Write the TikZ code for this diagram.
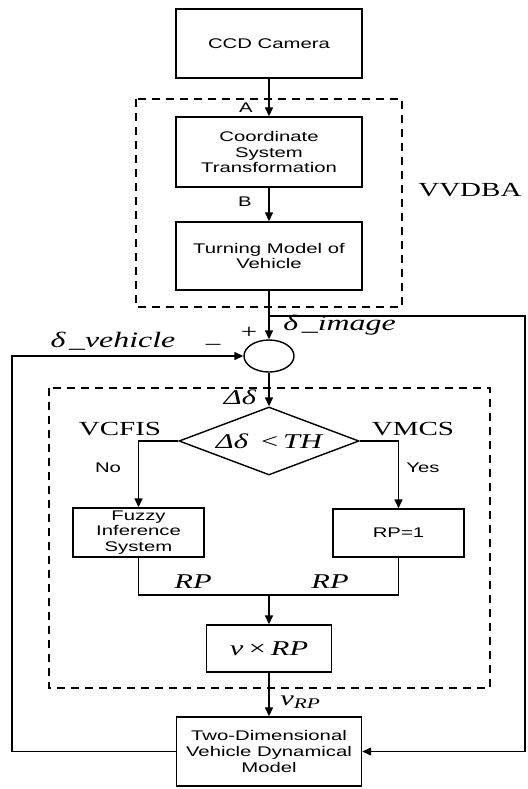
\documentclass[tikz,border=0pt]{standalone}
\usepackage{fontspec}
\setmainfont[FakeStretch=1.45]{Liberation Serif}
\setsansfont[FakeStretch=1.45]{Liberation Sans}
\usetikzlibrary{arrows.meta,shapes.geometric}

\tikzset{
	blk/.style={draw, inner sep=0pt, align=center, font=\sffamily\fontsize{7}{7.8}\selectfont},
	tag/.style={font=\sffamily\fontsize{7}{8}\selectfont},
	lab/.style={font=\fontsize{10}{12}\selectfont},
	mlab/.style={font=\itshape\fontsize{10.5}{12}\selectfont},
	grp/.style={draw, dash pattern=on 4pt off 3pt},
}

\begin{document}
\begin{tikzpicture}[x=0.5pt,y=-0.5pt,line width=0.7pt,>={Triangle[length=4.5pt,width=4pt]}]
\useasboundingbox (0,0) rectangle (528,789);

				\draw[grp] (136,99) rectangle (402,307);
				\draw[grp] (49,388) rectangle (490,688);

				\node[blk, minimum width=93pt, minimum height=34.5pt] (ccd) at (269,43.5) {CCD Camera};
				\node[blk, minimum width=93pt, minimum height=35pt] (coord) at (269,152) {Coordinate\\System\\Transformation};
				\node[blk, minimum width=93pt, minimum height=34pt] (turn) at (269,256) {Turning Model of\\Vehicle};
				\node[draw, ellipse, inner sep=0pt, minimum width=25pt, minimum height=16pt] (sum) at (269,356) {};
				\node[draw, diamond, aspect=2.65, inner sep=0pt, minimum width=90pt, minimum height=34pt, mlab] (cond) at (269,441) {Δδ \,<\,TH};
				\node[blk, minimum width=65.5pt, minimum height=24.5pt] (fuzzy) at (138.5,532.5) {Fuzzy\\Inference\\System};
				\node[blk, minimum width=65.5pt, minimum height=24pt] (rp1) at (398.5,533) {RP=1};
				\node[blk, minimum width=62.5pt, minimum height=23.5pt, mlab] (vrp) at (269,648.5) {ν\,×\,RP};
				\node[blk, minimum width=92.5pt, minimum height=34.5pt] (twod) at (269,751.5) {Two-Dimensional\\Vehicle Dynamical\\Model};

				\node[tag] (la) at (246,108) {A};
				\node[tag] (lb) at (245,202) {B};
				\node[lab, anchor=west] (vvdba) at (411,190) {VVDBA};
				\node[lab] (plus) at (249,333) {+};
				\node[lab] (minus) at (213,347) {–};
				\node[mlab, font=\itshape\fontsize{11}{12}\selectfont, anchor=west] (dimg) at (276,325) {δ\,\_image};
				\node[mlab, font=\itshape\fontsize{11}{12}\selectfont] (dveh) at (113,341) {δ\,\_vehicle};
				\node[mlab] (dd) at (240,397) {Δδ};
				\node[lab] (vcfis) at (120,429) {VCFIS};
				\node[lab] (vmcs) at (413,429) {VMCS};
				\node[tag] (no) at (108,468) {No};
				\node[tag] (yes) at (423,468) {Yes};
				\node[mlab] (rpl) at (193,582) {RP};
				\node[mlab] (rpr) at (330,582) {RP};
				\node[mlab, anchor=west] (vsub) at (273,702) {ν\textsubscript{RP}};

				\coordinate (tap) at (269,316);
				\coordinate (rc) at (525,316);
				\coordinate (lc) at (12,356);
				\coordinate (jn) at (269,595);

				\draw[->] (ccd) -- (coord);
				\draw[->] (coord) -- (turn);
				\draw[->] (turn) -- (sum);
				\draw[->] (tap) -- (rc) |- (twod.east);
				\draw[->] (twod.west) -| (lc) -- (sum.west);
				\draw[->] (sum) -- (cond);
				\draw[->] (cond.west) -| (fuzzy.north);
				\draw[->] (cond.east) -| (rp1.north);
				\draw (fuzzy.south) |- (jn) -| (rp1.south);
				\draw[->] (jn) -- (vrp);
				\draw[->] (vrp) -- (twod);
		\end{tikzpicture}
\end{document}
